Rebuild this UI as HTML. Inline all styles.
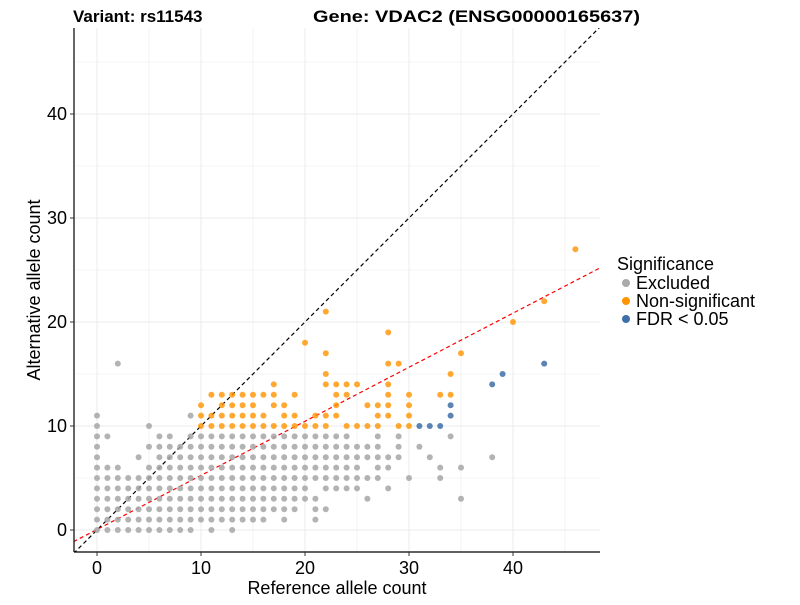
<!DOCTYPE html>
<html><head><meta charset="utf-8"><style>
body{margin:0;background:#fff;}
svg{font-family:"Liberation Sans",sans-serif;}
</style></head><body>
<svg id="chart" width="800" height="600" xmlns="http://www.w3.org/2000/svg">
<rect width="800" height="600" fill="#fff"/>
<g id="grid"></g><g id="lines"></g><g id="pts"></g><g id="axes"></g>
<text x="73" y="22" font-size="17" font-weight="bold">Variant: rs11543</text>
<text x="313" y="22" font-size="17" font-weight="bold" textLength="327" lengthAdjust="spacingAndGlyphs">Gene: VDAC2 (ENSG00000165637)</text>
<text x="337" y="594" font-size="18" text-anchor="middle">Reference allele count</text>
<text transform="translate(40,290) rotate(-90)" font-size="18" text-anchor="middle">Alternative allele count</text>
<g>
<text x="617" y="270" font-size="18">Significance</text>
<circle cx="626" cy="283" r="4" fill="#aaaaaa"/>
<text x="636" y="289" font-size="18">Excluded</text>
<circle cx="626" cy="301" r="4" fill="#ff9400"/>
<text x="636" y="307" font-size="18">Non-significant</text>
<circle cx="626" cy="319" r="4" fill="#3e6fa8"/>
<text x="636" y="325" font-size="18">FDR &lt; 0.05</text>
</g>
</svg>
<script>
const xTicks=[0,10,20,30,40];
const yTicks=[0,10,20,30,40];
const greyCols=[
[0,[0,1,2,3,4,5,6,7,8,9,10,11]],[1,[0,1,2,3,4,5,6,9]],[2,[0,1,2,3,4,5,6,16]],[3,[0,1,2,3,4,5]],
[4,[0,1,2,3,4,5,7]],[5,[0,1,2,3,4,5,6,8,10]],[6,[0,1,2,3,4,5,6,7,8,9]],[7,[0,1,2,3,4,5,6,7,8,9]],
[8,[0,1,2,3,4,5,6,7,8]],[9,[0,1,2,3,4,5,6,7,8,9,11]],[10,[1,2,3,4,5,6,7,8,9]],[11,[0,1,2,3,4,5,6,7,8,9]],
[12,[1,2,3,4,5,6,7,8,9]],[13,[0,1,2,3,4,5,6,7,8,9]],[14,[1,2,3,4,5,6,7,8,9]],[15,[1,2,3,4,5,6,7,8,9]],
[16,[1,2,3,4,5,6,7,8,9]],[17,[2,3,4,5,6,7,8,9]],[18,[1,2,3,4,5,6,7,8,9]],[19,[2,3,4,5,6,7,8,9]],
[20,[3,4,5,6,7,8,9]],[21,[1,2,3,5,6,7,8,9]],[22,[2,4,5,6,7,8,9]],[23,[4,5,6,7,8,9]],[24,[4,5,6,7,8,9]],
[25,[4,5,6,7,8]],[26,[3,5,7,8]],[27,[5,6,7,8,9]],[28,[4,6,7]],[29,[7,8,9]],[30,[5]],[31,[8]],[32,[7]],
[33,[5,6]],[34,[9]],[35,[3,6]],[38,[7]]];
const orangeRows=[
[10,[10,11,12,13,14,15,16,17,18,19,20,21,22,24,25,26,27,29,30]],
[11,[10,11,12,13,14,15,16,18,19,21,22,23,27,28,30]],
[12,[10,12,13,14,15,17,18,23,26,27,28,30]],
[13,[11,12,13,14,15,16,17,19,23,24,28,30,33,34]],
[14,[17,22,23,24,25,28]],[15,[22,34]],[16,[28,29]],[17,[22,35]],[18,[20]],[19,[28]],
[20,[40]],[21,[22]],[22,[43]],[27,[46]]];
const blueX=[31,32,33,34,34,38,39,43];
const blueY=[10,10,10,11,12,14,15,16];
const fitSlope=0.52, fitIntercept=0.05;
const sx=v=>97+v*10.4, sy=v=>530-v*10.4;
const NS='http://www.w3.org/2000/svg';
function mk(parent,tag,attrs){const e=document.createElementNS(NS,tag);for(const k in attrs)e.setAttribute(k,attrs[k]);parent.appendChild(e);return e;}
const grid=document.getElementById('grid');
for(let v=-0;v<=45;v+=5){
 const major=v%10===0;
 const gx=mk(grid,'line',{x1:sx(v),x2:sx(v),y1:28,y2:552,stroke:'#ebebeb','stroke-width':major?1:0.6});
 
 
 const gy=mk(grid,'line',{x1:74,x2:600,y1:sy(v),y2:sy(v),stroke:'#ebebeb','stroke-width':major?1:0.6});
 
 
}
const pts=document.getElementById('pts');
greyCols.forEach(([x,ys])=>ys.forEach(y=>{
 const c=mk(pts,'circle',{cx:sx(x),cy:sy(y),r:3,fill:'#a6a6a6','fill-opacity':0.85});
 
 
}));
orangeRows.forEach(([y,xs])=>xs.forEach(x=>{
 const c=mk(pts,'circle',{cx:sx(x),cy:sy(y),r:3,fill:'#ff9400','fill-opacity':0.8});
 
 
}));
blueX.forEach((x,i)=>{
 const c=mk(pts,'circle',{cx:sx(x),cy:sy(blueY[i]),r:3,fill:'#3e6fa8','fill-opacity':0.85});
 
 
});
const lines=document.getElementById('lines');
const x0=-2.25,x1=48.4;
const idl=mk(lines,'line',{x1:sx(x0),y1:sy(x0),x2:sx(x1),y2:sy(x1),stroke:'#000','stroke-width':1.2,'stroke-dasharray':'4,3'});


const fl=mk(lines,'line',{x1:sx(x0),y1:sy(fitIntercept+fitSlope*x0),x2:sx(x1),y2:sy(fitIntercept+fitSlope*x1),stroke:'#ff0000','stroke-width':1.2,'stroke-dasharray':'4,3'});


document.getElementById('chart').appendChild(pts);
const axes=document.getElementById('axes');
mk(axes,'rect',{x:0,y:0,width:74,height:600,fill:'#fff'});
mk(axes,'rect',{x:0,y:552,width:800,height:48,fill:'#fff'});
mk(axes,'rect',{x:0,y:0,width:800,height:28,fill:'#fff'});
mk(axes,'rect',{x:600,y:0,width:200,height:600,fill:'#fff'});
const ya=mk(axes,'line',{x1:74,x2:74,y1:28,y2:552,stroke:'#000','stroke-width':1.2});


const xa=mk(axes,'line',{x1:74,x2:600,y1:552,y2:552,stroke:'#000','stroke-width':1.2});


xTicks.forEach(v=>{
 mk(axes,'line',{x1:sx(v),x2:sx(v),y1:552,y2:556,stroke:'#333'});
 const t=mk(axes,'text',{x:sx(v),y:574,'font-size':18,'text-anchor':'middle',fill:'#000'});
 t.textContent=v;
 
 
});
yTicks.forEach(v=>{
 mk(axes,'line',{x1:70,x2:74,y1:sy(v),y2:sy(v),stroke:'#333'});
 const t=mk(axes,'text',{x:67,y:sy(v)+6,'font-size':18,'text-anchor':'end',fill:'#000'});
 t.textContent=v;
 
 
});
</script>
</body></html>
